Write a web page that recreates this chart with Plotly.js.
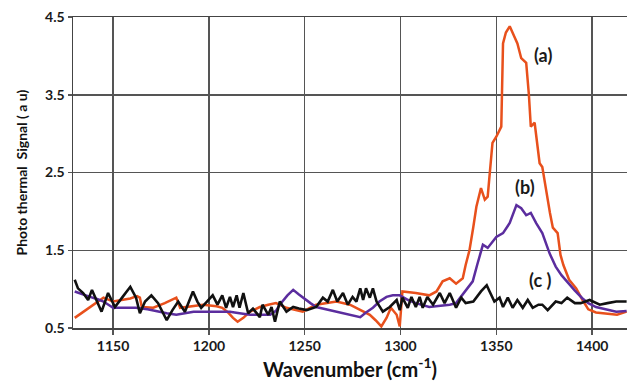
<!DOCTYPE html>
<html>
<head>
<meta charset="utf-8">
<script src="https://cdn.plot.ly/plotly-3.0.1.min.js"></script>
<style>html,body{margin:0;padding:0;background:#fff;overflow:hidden}</style>
</head>
<body>
<div id="chart" style="width:627px;height:381px"></div>
<script>
// Series (a) - orange
const xA = [1130,1135,1140,1145,1150,1155,1159,1162.5,1164,1165,1171,1177,1183,1185,1191,1197,1204,1207,1210,1212.6,1215,1218,1221.5,1226.6,1231,1235,1240.5,1245,1249,1256,1261,1266.6,1273.6,1279,1284,1287,1290,1292.7,1295,1298,1299.6,1301,1308,1315,1318.8,1322,1325.7,1329,1332.5,1334,1336,1338,1339.6,1342,1344,1345.5,1346.5,1348,1350,1352.6,1353.5,1355,1357,1359.6,1361,1363,1365.6,1367,1368,1370,1372.6,1374,1376,1378,1379.5,1381,1382,1383.5,1385,1388,1391.7,1395,1398,1402,1409,1413,1418];
const yA = [0.63,0.72,0.80,0.89,0.84,0.86,0.88,0.91,0.89,0.77,0.76,0.82,0.89,0.76,0.78,0.80,0.78,0.76,0.70,0.63,0.58,0.63,0.71,0.77,0.80,0.82,0.76,0.73,0.71,0.80,0.82,0.84,0.80,0.73,0.67,0.60,0.52,0.63,0.76,0.67,0.52,0.97,0.95,0.92,0.97,1.10,1.14,1.07,1.14,1.31,1.50,1.80,2.06,2.30,2.15,2.19,2.51,2.88,2.96,3.09,4.16,4.30,4.38,4.25,4.16,3.97,3.91,3.50,3.09,3.14,2.62,2.57,2.25,1.98,1.79,1.75,1.72,1.44,1.31,1.12,1.01,0.86,0.74,0.70,0.68,0.67,0.71];

// Series (b) - purple
const xB = [1130,1134,1138,1142,1145,1150,1156,1162,1168,1173,1178,1183,1188,1192,1197,1204,1211,1216,1221.5,1227,1232,1235,1237,1241,1244,1247,1249,1253,1256,1261,1266.6,1273,1279,1282,1285.6,1289,1292.7,1296,1299.6,1304,1308,1315,1320,1325.7,1329,1334,1337.7,1340,1343,1345.5,1347,1350,1353.5,1357,1360.5,1363,1365.6,1368,1370.8,1374,1377.8,1381,1384,1388,1391,1395,1398,1402,1407,1412.6,1418];
const yB = [0.97,0.93,0.90,0.87,0.84,0.76,0.76,0.76,0.74,0.71,0.69,0.67,0.69,0.71,0.71,0.71,0.71,0.69,0.67,0.67,0.67,0.72,0.80,0.92,0.99,0.93,0.89,0.82,0.77,0.74,0.71,0.67,0.64,0.70,0.76,0.84,0.90,0.92,0.92,0.86,0.82,0.77,0.78,0.80,0.82,0.99,1.10,1.31,1.57,1.53,1.58,1.67,1.72,1.85,2.08,2.04,1.95,1.98,1.85,1.72,1.46,1.29,1.18,1.06,0.98,0.88,0.82,0.77,0.74,0.71,0.72];

// Series (c) - black
const xC = [1130,1131.7,1134.4,1137,1139,1142,1144,1147.4,1151,1155,1159,1162,1164,1166.7,1170,1173.5,1178,1181,1184,1187.5,1191.7,1194,1196,1199,1202,1204.5,1207,1209,1211,1212.6,1214.5,1216,1218,1220.5,1223,1226.6,1228,1231,1232.7,1234.5,1237,1240.5,1244,1247,1251,1256,1259.5,1262,1264.7,1267,1270,1272.5,1275,1277,1279,1280.5,1282,1284,1285.6,1287.5,1290.8,1294.4,1298,1299.6,1301,1303.8,1305.7,1308,1310,1311.6,1314,1317,1320.5,1323,1325.7,1329,1331.7,1334,1338,1342,1345,1346.5,1349,1351.7,1353.5,1356,1358.5,1361,1363.8,1366.4,1369,1372,1374,1376.8,1381,1384,1387,1391,1394,1398.7,1404,1408,1412.6,1418];
const yC = [1.12,1.01,0.95,0.86,0.99,0.82,0.71,0.95,0.77,0.90,1.03,0.89,0.69,0.84,0.92,0.82,0.60,0.73,0.84,0.71,0.97,0.84,0.76,0.84,0.92,0.80,0.92,0.76,0.90,0.77,0.92,0.76,0.95,0.69,0.75,0.64,0.80,0.67,0.77,0.58,0.84,0.71,0.77,0.75,0.73,0.77,0.89,0.84,0.99,0.84,0.95,0.80,0.90,0.84,1.01,0.86,1.01,0.89,1.01,0.84,0.71,0.77,0.86,0.73,0.89,0.76,0.90,0.77,0.90,0.76,0.90,0.80,0.95,0.82,0.95,0.76,0.89,0.82,0.84,0.97,1.05,0.97,0.84,0.89,0.77,0.89,0.76,0.86,0.76,0.86,0.76,0.80,0.80,0.73,0.84,0.82,0.89,0.82,0.82,0.86,0.80,0.82,0.84,0.84];

const xTicks = [1150,1200,1250,1300,1350,1400];
const yTicks = [0.5,1.5,2.5,3.5,4.5];
const yTickText = ['0.5','1.5','2.5','3.5','4.5'];
const seriesLabels = ['(a)','(b)','(c )'];
const labelX = [1374.2,1364.8,1372.6];
const labelY = [4.01,2.31,1.12];

const FONT = 'Lato, "Open Sans", sans-serif';

const traces = [
  {x:xA, y:yA, mode:'lines', name:'(a)', line:{color:'#e8501c', width:2.5}},
  {x:xB, y:yB, mode:'lines', name:'(b)', line:{color:'#5b2d9e', width:2.5}},
  {x:xC, y:yC, mode:'lines', name:'(c)', line:{color:'#111111', width:2.6}}
];

const annotations = seriesLabels.map((t,i)=>({
  x:labelX[i], y:labelY[i], xref:'x', yref:'y', text:t, showarrow:false,
  font:{family:FONT, size:18, color:'#1a1a1a', weight:'bold'}
}));

const layout = {
  width:627, height:381,
  margin:{l:73, r:0, t:17, b:53},
  paper_bgcolor:'#fff', plot_bgcolor:'#fff',
  showlegend:false,
  xaxis:{
    range:[1129.1,1418.2], tickvals:xTicks,
    showgrid:true, gridcolor:'#555', gridwidth:1.5, zeroline:false,
    showline:true, linecolor:'#444', linewidth:1.5, mirror:true,
    ticks:'outside', ticklen:5, tickcolor:'#555', tickwidth:1.5,
    tickfont:{family:FONT, size:14, color:'#1a1a1a', weight:'bold'},
    title:{text:'Wavenumber (cm<sup>-1</sup>)', standoff:8, font:{family:FONT, size:20, color:'#111', weight:'bold'}}
  },
  yaxis:{
    range:[0.5,4.5], tickvals:yTicks, ticktext:yTickText,
    showgrid:true, gridcolor:'#555', gridwidth:1.5, zeroline:false,
    showline:true, linecolor:'#444', linewidth:1.5, mirror:false,
    ticks:'outside', ticklen:4, tickcolor:'#555', tickwidth:1.5,
    tickfont:{family:FONT, size:14, color:'#1a1a1a', weight:'bold'},
    title:{text:'Photo thermal  Signal ( a u)', standoff:14, font:{family:FONT, size:14, color:'#111', weight:'bold'}}
  },
  annotations:annotations
};

Plotly.newPlot('chart', traces, layout, {displayModeBar:false, staticPlot:true});
</script>
</body>
</html>
